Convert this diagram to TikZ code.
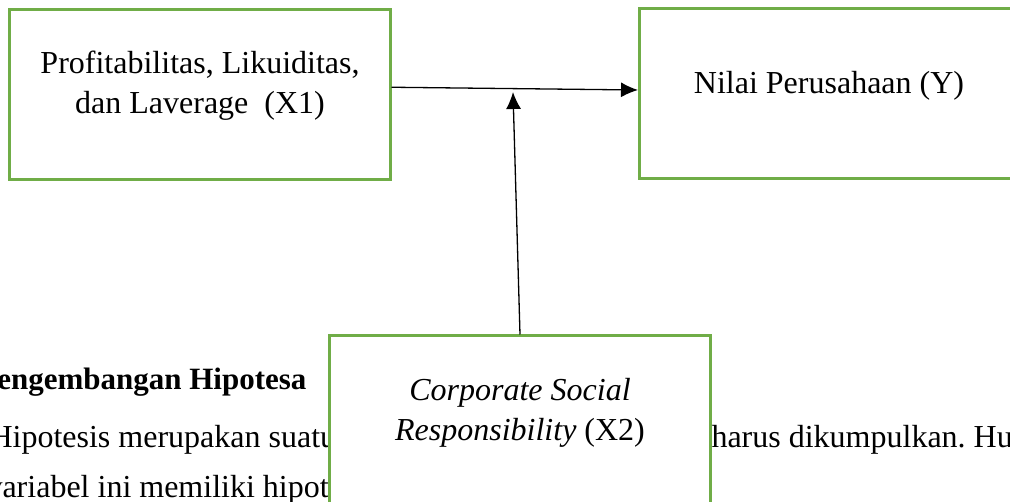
\documentclass[tikz,border=0pt]{standalone}
\usepackage{fontspec}
\setmainfont{Liberation Serif}
\usetikzlibrary{arrows.meta}
\definecolor{boxgreen}{RGB}{112,173,71}

\begin{document}
\begin{tikzpicture}[x=1pt,y=-1pt,font=\fontsize{32}{40}\selectfont,
	varbox/.style={draw=boxgreen,line width=3pt,fill=white,minimum width=381pt,minimum height=170pt,inner sep=0pt},
	lbl/.style={align=center,inner sep=0pt},
	link/.style={line width=1.3pt,-{Latex[length=17pt,width=15pt]}}]
	\useasboundingbox (0,0) rectangle (1010,502);

	%text of the page behind the figure
	\node[anchor=base east,font=\fontsize{31}{40}\selectfont\bfseries] (head) at (310,390) {Pengembangan Hipotesa};
	\node[anchor=base west] (linea) at (-14,448) {Hipotesis merupakan suatu};
	\node[anchor=base west] (lineb) at (708,448) {harus dikumpulkan.\ Hubungan};
	\node[anchor=base west] (linec) at (-17,497) {variabel ini memiliki hipotesis};

	%boxes
	\node[varbox] (x1) at (199.5,94.25) {}; %X1 box
	\node[varbox] (y) at (830,94) {}; %Y box
	\node[varbox] (x2) at (520,421) {}; %X2 box

	%labels
	\node[lbl] (x1lbl) at (200,85.5) {Profitabilitas, Likuiditas,\\dan Laverage\ \ (X1)};
	\node[lbl] (ylbl) at (829,85.5) {Nilai Perusahaan (Y)};
	\node[lbl] (x2lbl) at (520,412.5) {\textit{Corporate Social}\\\textit{Responsibility} (X2)};

	%arrows
	\coordinate (meet) at (513,92); %tip of the moderating arrow
	\draw[link] ([yshift=7pt]x1.east) -- ([yshift=4pt]y.west); %X1 to Y
	\draw[link] (x2.north) -- (meet); %X2 to the X1-Y link
\end{tikzpicture}
\end{document}
